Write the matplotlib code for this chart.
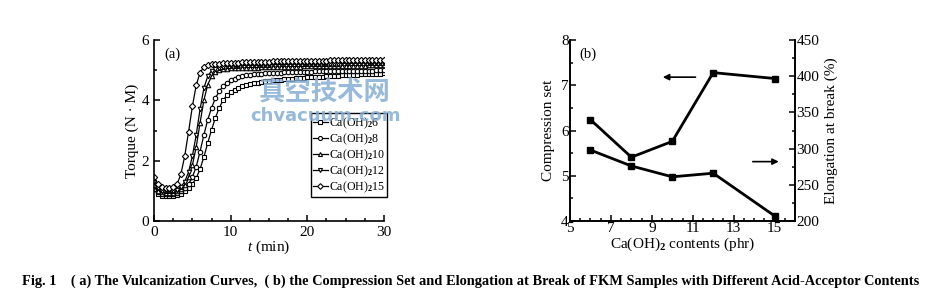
import numpy as np
import matplotlib
matplotlib.use('Agg')
import matplotlib.pyplot as plt
from matplotlib.ticker import MultipleLocator

plt.rcParams['font.family'] = ['Liberation Serif', 'DejaVu Serif']
plt.rcParams['mathtext.fontset'] = 'custom'
plt.rcParams['mathtext.rm'] = 'Liberation Serif'
plt.rcParams['mathtext.it'] = 'Liberation Serif:italic'
plt.rcParams['mathtext.bf'] = 'Liberation Serif:bold'

# (a) vulcanization curves, torque sampled every 0.5 min
time_min = np.arange(0, 30.01, 0.5)
torque = {
    '6': [1.05, 0.88, 0.84, 0.83, 0.83, 0.84, 0.86, 0.91, 0.98, 1.08,
          1.22, 1.42, 1.72, 2.12, 2.58, 3.02, 3.42, 3.75, 4.00, 4.17,
          4.28, 4.36, 4.42, 4.47, 4.51, 4.54, 4.57, 4.59, 4.61, 4.63,
          4.65, 4.66, 4.68, 4.69, 4.70, 4.71, 4.72, 4.73, 4.74, 4.75,
          4.76, 4.77, 4.78, 4.78, 4.79, 4.80, 4.81, 4.81, 4.82, 4.83,
          4.83, 4.84, 4.85, 4.85, 4.86, 4.87, 4.87, 4.88, 4.89, 4.89,
          4.90],
    '8': [1.15, 0.95, 0.90, 0.88, 0.88, 0.89, 0.92, 0.99, 1.08, 1.22,
          1.45, 1.80, 2.30, 2.85, 3.35, 3.75, 4.07, 4.30, 4.47, 4.58,
          4.66, 4.72, 4.76, 4.80, 4.83, 4.85, 4.87, 4.88, 4.89, 4.90,
          4.91, 4.91, 4.92, 4.92, 4.93, 4.93, 4.94, 4.94, 4.94, 4.95,
          4.95, 4.95, 4.96, 4.96, 4.96, 4.97, 4.97, 4.97, 4.97, 4.98,
          4.98, 4.98, 4.98, 4.99, 4.99, 4.99, 4.99, 4.99, 5.00, 5.00,
          5.00],
    '10': [1.20, 1.00, 0.95, 0.93, 0.93, 0.94, 0.98, 1.06, 1.20, 1.45,
           1.85, 2.45, 3.25, 4.00, 4.52, 4.80, 4.93, 5.00, 5.03, 5.05,
           5.06, 5.07, 5.07, 5.08, 5.08, 5.09, 5.09, 5.09, 5.10, 5.10,
           5.10, 5.11, 5.11, 5.11, 5.11, 5.12, 5.12, 5.12, 5.12, 5.13,
           5.13, 5.13, 5.13, 5.13, 5.14, 5.14, 5.14, 5.14, 5.14, 5.14,
           5.15, 5.15, 5.15, 5.15, 5.15, 5.15, 5.16, 5.16, 5.16, 5.16,
           5.16],
    '12': [1.30, 1.08, 1.01, 0.99, 0.99, 1.00, 1.04, 1.13, 1.30, 1.62,
           2.15, 2.85, 3.70, 4.40, 4.80, 4.98, 5.05, 5.09, 5.11, 5.13,
           5.14, 5.15, 5.15, 5.16, 5.16, 5.17, 5.17, 5.17, 5.18, 5.18,
           5.18, 5.19, 5.19, 5.19, 5.19, 5.20, 5.20, 5.20, 5.20, 5.21,
           5.21, 5.21, 5.21, 5.21, 5.22, 5.22, 5.22, 5.22, 5.22, 5.23,
           5.23, 5.23, 5.23, 5.23, 5.24, 5.24, 5.24, 5.24, 5.24, 5.25,
           5.25],
    '15': [1.45, 1.22, 1.13, 1.10, 1.10, 1.12, 1.22, 1.55, 2.15, 2.95,
           3.80, 4.50, 4.92, 5.10, 5.16, 5.19, 5.21, 5.22, 5.23, 5.24,
           5.24, 5.25, 5.25, 5.26, 5.26, 5.27, 5.27, 5.27, 5.28, 5.28,
           5.28, 5.29, 5.29, 5.29, 5.30, 5.30, 5.30, 5.30, 5.31, 5.31,
           5.31, 5.31, 5.32, 5.32, 5.32, 5.32, 5.33, 5.33, 5.33, 5.33,
           5.33, 5.34, 5.34, 5.34, 5.34, 5.34, 5.35, 5.35, 5.35, 5.35,
           5.35],
}
curve_markers = {'6': 's', '8': 'o', '10': '^', '12': 'v', '15': 'D'}

# (b) compression set / elongation at break vs Ca(OH)2 content
content_phr = [6, 8, 10, 12, 15]
compression_set = [6.24, 5.41, 5.76, 7.28, 7.15]
elongation_pct = [298, 276, 261, 266, 207]

fig = plt.figure(figsize=(9.37, 2.99), dpi=100)

# ---- panel (a)
ax1 = fig.add_axes([0.1644, 0.261, 0.2454, 0.605])
for key in ['6', '8', '10', '12', '15']:
    ax1.plot(time_min, torque[key], color='black', lw=0.9,
             marker=curve_markers[key], ms=3.2, mfc='white', mec='black', mew=0.8,
             label=r'Ca(OH)$_\mathbf{2}$' + key)
ax1.set_xlim(0, 30)
ax1.set_ylim(0, 6)
ax1.xaxis.set_major_locator(MultipleLocator(10))
ax1.xaxis.set_minor_locator(MultipleLocator(2.5))
ax1.yaxis.set_major_locator(MultipleLocator(2))
ax1.yaxis.set_minor_locator(MultipleLocator(1))
ax1.spines['top'].set_visible(False)
ax1.spines['right'].set_visible(False)
for sp in ax1.spines.values():
    sp.set_linewidth(1.2)
ax1.tick_params(which='both', direction='in', labelsize=11, width=1.1)
ax1.tick_params(which='major', length=4)
ax1.tick_params(which='minor', length=2.5)
ax1.set_xlabel(r'$\mathit{t}$ (min)', fontsize=11, labelpad=0)
ax1.set_ylabel('Torque (N · M)', fontsize=11, labelpad=2)
ax1.text(0.045, 0.92, '(a)', transform=ax1.transAxes, fontsize=10.5, va='center')
leg = ax1.legend(loc='lower right', bbox_to_anchor=(1.015, 0.13), fontsize=8.6,
                 handlelength=1.2, handletextpad=0.1, borderpad=0.2,
                 labelspacing=0.05, borderaxespad=0, fancybox=False,
                 edgecolor='black', framealpha=1, markerscale=0.9)
leg.get_frame().set_linewidth(1.0)

# watermark
fig.text(0.347, 0.692, '真空技术网', fontsize=19, fontweight='bold',
         family=['Noto Sans CJK SC'], color='#86aed4', alpha=0.85,
         ha='center', va='center')
fig.text(0.347, 0.612, 'chvacuum.com', fontsize=13, fontweight='bold',
         family=['DejaVu Sans'], color='#86aed4', alpha=0.85,
         ha='center', va='center')

# ---- panel (b)
ax2 = fig.add_axes([0.6083, 0.261, 0.2402, 0.605])
ax3 = ax2.twinx()
ax2.plot(content_phr, compression_set, color='black', lw=2.0,
         marker='s', ms=4.5, mfc='black')
ax3.plot(content_phr, elongation_pct, color='black', lw=2.0,
         marker='s', ms=4.5, mfc='black')
ax2.set_xlim(5, 16)
ax2.set_ylim(4, 8)
ax3.set_ylim(200, 450)
ax2.set_xticks([5, 7, 9, 11, 13, 15])
ax2.xaxis.set_minor_locator(MultipleLocator(0.5))
ax2.yaxis.set_major_locator(MultipleLocator(1))
ax2.yaxis.set_minor_locator(MultipleLocator(0.5))
ax3.yaxis.set_major_locator(MultipleLocator(50))
ax3.yaxis.set_minor_locator(MultipleLocator(25))
for a in (ax2, ax3):
    a.spines['top'].set_visible(False)
    for sp in a.spines.values():
        sp.set_linewidth(1.2)
    a.tick_params(which='both', direction='in', labelsize=11, width=1.1, pad=1)
    a.tick_params(which='major', length=4)
    a.tick_params(which='minor', length=2.5)
ax2.set_xlabel(r'Ca(OH)$_\mathbf{2}$ contents (phr)', fontsize=11, labelpad=0)
ax2.set_ylabel('Compression set', fontsize=11, labelpad=4)
ax3.set_ylabel('Elongation at break (%)', fontsize=11, labelpad=4)
ax2.text(0.04, 0.92, '(b)', transform=ax2.transAxes, fontsize=10.5, va='center')
ax2.annotate('', xy=(0.40, 0.795), xytext=(0.57, 0.795), xycoords='axes fraction',
             arrowprops=dict(arrowstyle='-|>', color='black', lw=1.2, mutation_scale=9))
ax2.annotate('', xy=(0.94, 0.328), xytext=(0.80, 0.328), xycoords='axes fraction',
             arrowprops=dict(arrowstyle='-|>', color='black', lw=1.2, mutation_scale=9))

fig.text(0.024, 0.06, 'Fig. 1    ( a) The Vulcanization Curves,  ( b) the Compression Set '
         'and Elongation at Break of FKM Samples with Different Acid-Acceptor Contents',
         fontsize=10.4, fontweight='bold', ha='left', va='center')

fig.savefig('out.png', dpi=100)
